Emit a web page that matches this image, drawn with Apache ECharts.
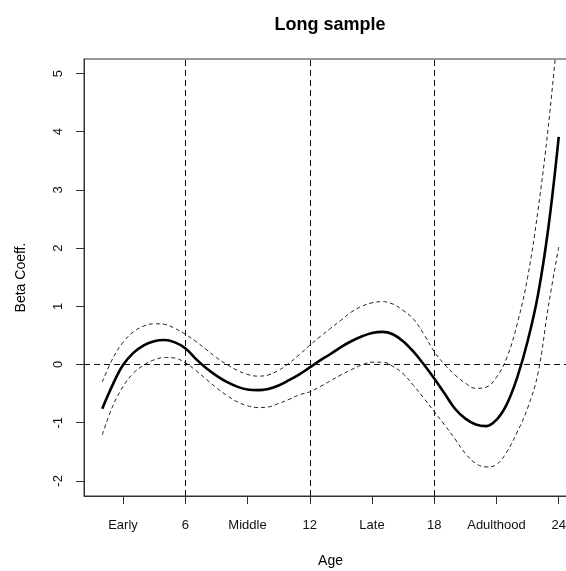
<!DOCTYPE html>
<html>
<head>
<meta charset="utf-8">
<script src="https://cdn.jsdelivr.net/npm/echarts@6/dist/echarts.min.js"></script>
<style>
html,body{margin:0;padding:0;background:#fff;}
#chart{width:566px;height:571px;}
</style>
</head>
<body>
<div id="chart"></div>
<script>
// ---- data ----
const ages = [2.0,2.5,3.0,3.5,4.0,4.5,5.0,5.5,6.0,6.5,7.0,7.5,8.0,8.5,9.0,9.5,10.0,10.5,11.0,11.5,12.0,
  12.5,13.0,13.5,14.0,14.5,15.0,15.5,16.0,16.5,17.0,17.5,18.0,18.5,19.0,19.5,20.0,20.5,21.0,21.5,22.0,22.5,23.0,23.5,24.0];
const beta = [-0.76,-0.35,-0.01,0.20,0.33,0.40,0.42,0.38,0.28,0.10,-0.06,-0.19,-0.30,-0.38,-0.43,-0.44,-0.42,-0.36,-0.27,-0.17,-0.05,
  0.07,0.18,0.30,0.40,0.48,0.54,0.56,0.52,0.40,0.22,0.00,-0.24,-0.50,-0.76,-0.93,-1.03,-1.06,-0.95,-0.68,-0.22,0.40,1.20,2.35,3.91];
const upper = [-0.30,0.10,0.38,0.56,0.66,0.70,0.69,0.62,0.52,0.40,0.26,0.12,0.00,-0.10,-0.17,-0.20,-0.18,-0.10,0.02,0.17,0.33,
  0.48,0.62,0.76,0.90,1.00,1.06,1.08,1.04,0.93,0.78,0.52,0.22,0.00,-0.18,-0.32,-0.41,-0.39,-0.22,0.12,0.70,1.50,2.65,4.10,5.90];
const lower = [-1.21,-0.72,-0.38,-0.15,-0.01,0.08,0.12,0.11,0.03,-0.10,-0.25,-0.40,-0.53,-0.64,-0.71,-0.74,-0.73,-0.67,-0.60,-0.52,-0.47,
  -0.38,-0.28,-0.18,-0.09,-0.01,0.04,0.04,-0.03,-0.16,-0.36,-0.58,-0.81,-1.04,-1.28,-1.53,-1.70,-1.76,-1.72,-1.50,-1.16,-0.75,-0.15,1.00,2.02];
const xTickValues = [3,6,9,12,15,18,21,24];
const xTickLabels = ['Early','6','Middle','12','Late','18','Adulthood','24'];
const yTickValues = [-2,-1,0,1,2,3,4,5];
const vLines = [6,12,18];
const hLines = [0];
const titleText = 'Long sample';
const xName = 'Age';
const yName = 'Beta Coeff.';

const pairs = arr => ages.map((a,i)=>[a,arr[i]]);
const FONT = '"Liberation Sans", Arial, sans-serif';

const chart = echarts.init(document.getElementById('chart'), null, {renderer:'canvas'});
chart.setOption({
  animation:false,
  backgroundColor:'#fff',
  title:{
    text:titleText, left:325, top:11, textAlign:'center',
    textStyle:{fontFamily:FONT, fontWeight:'bold', fontSize:18, color:'#000'}
  },
  grid:{
    left:84, top:59, width:493, height:437,
    show:true, borderColor:'#333', borderWidth:1, backgroundColor:'transparent',
    containLabel:false, outerBoundsMode:'none'
  },
  xAxis:{
    type:'value', min:1.12, max:24.88, position:'bottom',
    name:xName, nameLocation:'middle', nameGap:58,
    nameTextStyle:{fontFamily:FONT, fontSize:14, color:'#000'},
    axisLine:{show:true, onZero:false, lineStyle:{color:'#333', width:1}},
    splitLine:{show:false},
    axisTick:{show:true, length:8, customValues:xTickValues, lineStyle:{color:'#333', width:1}},
    axisLabel:{
      customValues:xTickValues, margin:23, fontFamily:FONT, fontSize:13, color:'#111',
      formatter: v => { const i = xTickValues.indexOf(Math.round(v)); return i>=0 ? xTickLabels[i] : ''; }
    }
  },
  yAxis:{
    type:'value', min:-2.26, max:5.25,
    name:yName, nameLocation:'middle', nameGap:56,
    nameTextStyle:{fontFamily:FONT, fontSize:14, color:'#000'},
    axisLine:{show:true, onZero:false, lineStyle:{color:'#333', width:1}},
    splitLine:{show:false},
    axisTick:{show:true, length:8, customValues:yTickValues, lineStyle:{color:'#333', width:1}},
    axisLabel:{
      customValues:yTickValues, rotate:90, margin:19, fontFamily:FONT, fontSize:13, color:'#111',
      formatter: v => String(Math.round(v))
    }
  },
  series:[
    {
      type:'line', data:[], silent:true,
      markLine:{
        silent:true, symbol:['none','none'], label:{show:false},
        lineStyle:{type:[6,4], color:'#111', width:1},
        data: vLines.map(v=>({xAxis:v})).concat(hLines.map(v=>({yAxis:v})))
      }
    },
    {
      type:'line', data:pairs(upper), showSymbol:false, smooth:0.4, clip:true,
      lineStyle:{type:[4,3], color:'#222', width:1}
    },
    {
      type:'line', data:pairs(lower), showSymbol:false, smooth:0.4, clip:true,
      lineStyle:{type:[4,3], color:'#222', width:1}
    },
    {
      type:'line', data:pairs(beta), showSymbol:false, smooth:0.4, clip:true,
      lineStyle:{color:'#000', width:2.6}
    }
  ]
});
</script>
</body>
</html>
